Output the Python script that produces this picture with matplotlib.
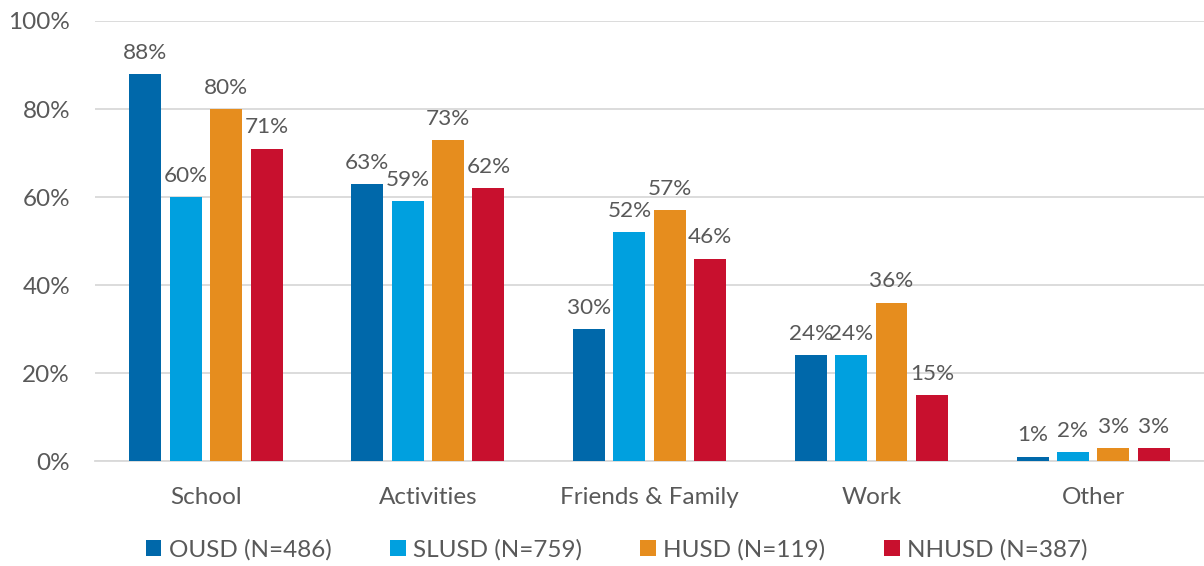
import matplotlib
matplotlib.use("Agg")
import matplotlib.pyplot as plt
import numpy as np

categories = ["School", "Activities", "Friends & Family", "Work", "Other"]
series_names = ["OUSD (N=486)", "SLUSD (N=759)", "HUSD (N=119)", "NHUSD (N=387)"]
ousd = [88, 63, 30, 24, 1]
slusd = [60, 59, 52, 24, 2]
husd = [80, 73, 57, 36, 3]
nhusd = [71, 62, 46, 15, 3]
colors = ["#0068AA", "#00A0DF", "#E68D1E", "#C8102E"]
y_ticks = [0, 20, 40, 60, 80, 100]

plt.rcParams["font.family"] = ["Lato", "DejaVu Sans"]
text_color = "#595959"

fig = plt.figure(figsize=(12.04, 5.66), dpi=100)
ax = fig.add_axes([0.079, 0.1855, 0.921, 0.7774])

x = np.arange(len(categories))
step = 0.182
width = 0.144
all_series = [ousd, slusd, husd, nhusd]
for i, (vals, name, col) in enumerate(zip(all_series, series_names, colors)):
    pos = x + (i - 1.5) * step
    bars = ax.bar(pos, vals, width=width, color=col, label=name, zorder=3)
    for b, v in zip(bars, vals):
        ax.annotate(f"{v}%", (b.get_x() + b.get_width() / 2, v),
                    xytext=(0, 8), textcoords="offset points",
                    ha="center", va="bottom", fontsize=16.2, color=text_color)

ax.set_xlim(-0.5, len(categories) - 0.5)
ax.set_ylim(0, 100)
ax.set_yticks(y_ticks)
ax.set_yticklabels([f"{t}%" for t in y_ticks])
ax.set_xticks(x)
ax.set_xticklabels(categories)
ax.tick_params(axis="both", length=0, labelsize=17.5, colors=text_color)
ax.tick_params(axis="y", pad=18)
ax.tick_params(axis="x", pad=19)
ax.grid(axis="y", color="#D9D9D9", linewidth=1.3, zorder=0)
for s in ["top", "right", "left"]:
    ax.spines[s].set_visible(False)
ax.spines["bottom"].set_color("#D9D9D9")
ax.spines["bottom"].set_linewidth(1.3)

leg = fig.legend(loc="center", bbox_to_anchor=(0.512, 0.028), ncol=4, frameon=False,
                 fontsize=17.5, handlelength=0.65, handleheight=0.65, handletextpad=0.3,
                 columnspacing=2.4, labelcolor=text_color)

fig.savefig("out.png", dpi=100)
